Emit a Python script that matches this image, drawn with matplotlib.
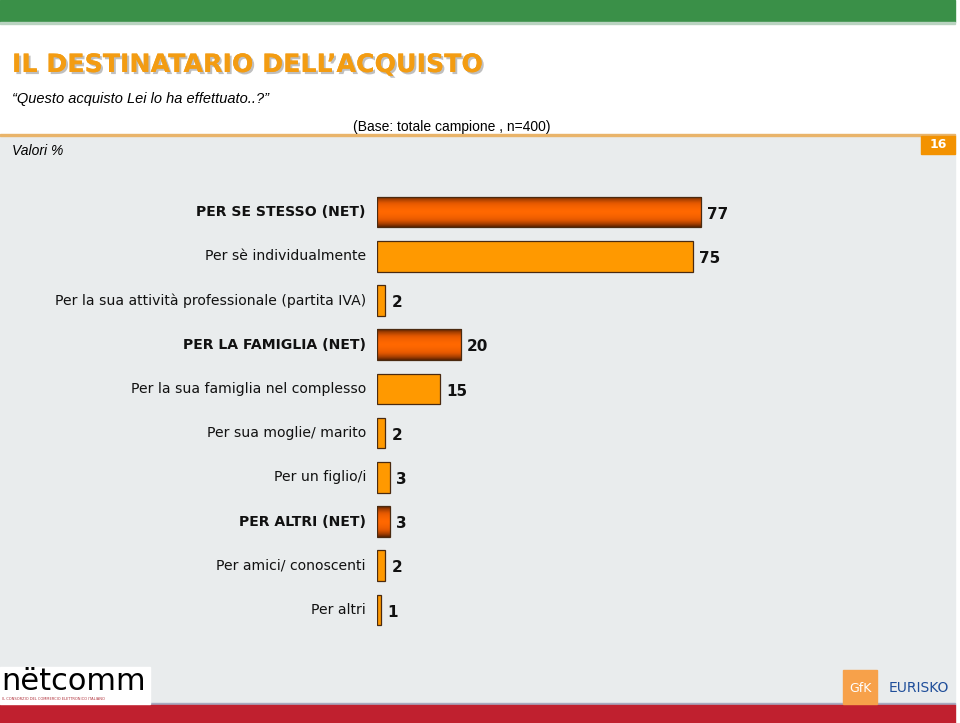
import matplotlib
matplotlib.use("Agg")
import matplotlib.pyplot as plt
import matplotlib.patches as mpatches
import matplotlib.patheffects as pe
import numpy as np

categories = [
    "PER SE STESSO (NET)",
    "Per sè individualmente",
    "Per la sua attività professionale (partita IVA)",
    "PER LA FAMIGLIA (NET)",
    "Per la sua famiglia nel complesso",
    "Per sua moglie/ marito",
    "Per un figlio/i",
    "PER ALTRI (NET)",
    "Per amici/ conoscenti",
    "Per altri",
]
values = [77, 75, 2, 20, 15, 2, 3, 3, 2, 1]
is_net = [True, False, False, True, False, False, False, True, False, False]

W, H = 960, 723
fig = plt.figure(figsize=(W / 100, H / 100), dpi=100)
fig.patch.set_facecolor("white")

def fx(x):
    return x / W

def fy(y):
    return 1 - y / H

# background panels
bg = fig.add_axes([0, 0, 1, 1], zorder=-10)
bg.set_xlim(0, W)
bg.set_ylim(H, 0)
bg.axis("off")
bg.add_patch(mpatches.Rectangle((0, 0), 955, 22, color="#3a9048"))
bg.add_patch(mpatches.Rectangle((0, 22), 955, 2, color="#b9d3c0"))
bg.add_patch(mpatches.Rectangle((0, 135), 955, 570, color="#e9eced"))
bg.add_patch(mpatches.Rectangle((0, 134), 955, 2, color="#e9b46a"))
bg.add_patch(mpatches.Rectangle((0, 703), 955, 2, color="#a8a9c0"))
bg.add_patch(mpatches.Rectangle((0, 705), 955, 18, color="#c0202f"))
# page number box
bg.add_patch(mpatches.Rectangle((921, 136), 34, 18, color="#f39200"))
bg.text(938, 145, "16", color="white", fontsize=9, fontweight="bold",
        ha="center", va="center")
# netcomm logo
bg.add_patch(mpatches.Rectangle((0, 667), 150, 37, color="white"))
bg.text(1, 690, "nëtcomm", fontsize=22, color="black", ha="left", va="baseline",
        family="DejaVu Sans")
bg.text(2, 700, "IL CONSORZIO DEL COMMERCIO ELETTRONICO ITALIANO", fontsize=2.6,
        color="#b0303a", ha="left", va="baseline")
# GfK Eurisko logo
bg.add_patch(mpatches.Rectangle((843, 670), 34, 34, color="#f7a14a"))
bg.text(860, 688, "GfK", color="white", fontsize=9, ha="center", va="center")
bg.text(919, 688, "EURISKO", color="#1f4e9a", fontsize=10, ha="center", va="center",
        family="Liberation Sans Narrow")

# titles
bg.text(12, 65, "IL DESTINATARIO DELL\u2019ACQUISTO", color="#f39c12", fontsize=18.2,
        fontweight="bold", ha="left", va="center", family="DejaVu Sans",
        path_effects=[pe.withSimplePatchShadow(offset=(1.5, -1.5), shadow_rgbFace="#b0b0b0", alpha=0.8), pe.Normal()])
bg.text(12, 99, "\u201cQuesto acquisto Lei lo ha effettuato..?\u201d", fontsize=10.5,
        style="italic", ha="left", va="center", family="Liberation Sans")
bg.text(452, 127, "(Base: totale campione , n=400)", fontsize=10,
        ha="center", va="center", family="Liberation Sans")
bg.text(12, 151, "Valori %", fontsize=10, style="italic",
        ha="left", va="center", family="Liberation Sans")

# bar axes: x0 at px 377, 4.21 px per unit; rows 44.2 px apart starting at 212
x0_px, ppu = 377, 4.21
ax_left, ax_right = x0_px, 955
top_px, row_px, n = 190, 44.2, len(values)
bot_px = top_px + row_px * n
ax = fig.add_axes([fx(ax_left), fy(bot_px), (ax_right - ax_left) / W, (bot_px - top_px) / H])
ax.set_xlim(0, (ax_right - ax_left) / ppu)
ax.set_ylim(n - 0.5, -0.5)
ax.axis("off")
ax.patch.set_alpha(0)

bh = 0.69
grad = np.abs(np.linspace(-1, 1, 64)) ** 1.8
cmap = matplotlib.colors.LinearSegmentedColormap.from_list(
    "g", ["#ff6800", "#e45800", "#a84000", "#5c2200"])
ypos = np.arange(n)
bars = ax.barh(ypos, values, height=bh, color="#ff9900", edgecolor="#4a2a10",
               linewidth=0.9, zorder=2)
for i, (v, net) in enumerate(zip(values, is_net)):
    if net:
        bars[i].set_facecolor("none")
        img = ax.imshow(grad[:, None], cmap=cmap, aspect="auto",
                        extent=[0, v, i + bh / 2, i - bh / 2], zorder=1,
                        interpolation="bilinear")
        img.set_clip_path(bars[i])
    ax.text(v + 6 / ppu, i + 0.05, f"{v}", fontsize=11, fontweight="bold",
            ha="left", va="center", color="#111111")
    ax.text(-11 / ppu, i, categories[i], fontsize=10.1,
            fontweight="bold" if net else "normal",
            ha="right", va="center", color="#111111", clip_on=False)

fig.savefig("out.png", dpi=100)
